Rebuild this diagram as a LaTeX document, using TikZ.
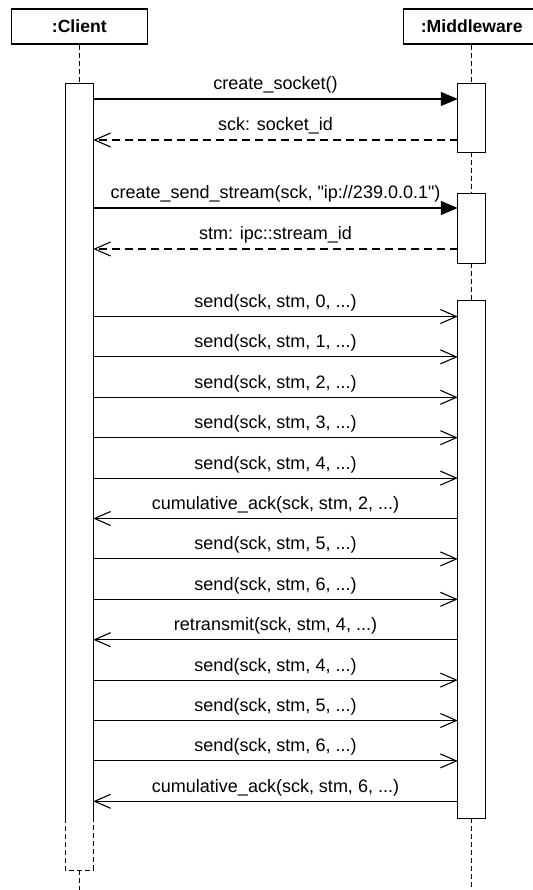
\documentclass[tikz,border=0pt]{standalone}
\usepackage{fontspec}
\setmainfont{Liberation Sans}
\usetikzlibrary{arrows.meta}

\begin{document}
\begin{tikzpicture}[x=1pt,y=-1pt,
  txt/.style={font=\fontsize{18}{20}\selectfont},
  participant/.style={draw, line width=1.1pt, minimum width=136pt, minimum height=35pt,
    inner sep=0pt, font=\fontsize{17.6}{20}\selectfont\bfseries},
  lifeline/.style={line width=1.1pt, dash pattern=on 5pt off 3pt},
  actspan/.style={minimum width=27.5pt, inner sep=0pt},
  call/.style={line width=1.1pt, -{Triangle[length=17pt,width=14pt]}},
  msg/.style={line width=1.1pt, -{Straight Barb[length=16pt,width=14pt]}},
  reply/.style={msg, dash pattern=on 8pt off 5pt},
  lbl/.style={txt, midway, anchor=base, yshift=9pt, inner sep=0pt}
]
\useasboundingbox (0,0) rectangle (532,890);

% participants
\node[participant] (client) at (79.3,26.5) {:Client};
\node[participant] (mw) at (471.7,26.5) {:Middleware};

% client activation (solid, then dashed towards the end)
\node[actspan, minimum height=786pt] (ca) at (79.3,477) {};
\coordinate (cbreak) at (0,818);
\coordinate (cend) at (79.3,890);
\coordinate (mend) at (471.7,890);

% lifelines
\draw[lifeline] (client.south) -- (ca.north);
\draw[lifeline] (ca.south) -- (cend);

% middleware activations
\node[actspan, minimum height=68pt] (ma1) at (471.7,118) {};
\node[actspan, minimum height=69.5pt] (ma2) at (471.7,228.25) {};
\node[actspan, minimum height=517pt] (ma3) at (471.7,559.5) {};
\draw[lifeline] (mw.south) -- (ma1.north);
\draw[lifeline] (ma1.south) -- (ma2.north);
\draw[lifeline] (ma2.south) -- (ma3.north);
\draw[lifeline] (ma3.south) -- (mend);
\draw[line width=1.1pt, fill=white] (ma1.north west) rectangle (ma1.south east);
\draw[line width=1.1pt, fill=white] (ma2.north west) rectangle (ma2.south east);
\draw[line width=1.1pt, fill=white] (ma3.north west) rectangle (ma3.south east);

\fill[white] (ca.north west) rectangle (ca.south east);
\draw[line width=1.1pt] (ca.west |- cbreak) -- (ca.north west) -- (ca.north east) -- (ca.east |- cbreak);
\draw[lifeline] (ca.west |- cbreak) -- (ca.south west) -- (ca.south east) -- (ca.east |- cbreak);

% message rows
\coordinate (y1) at (0,99);
\coordinate (y2) at (0,140);
\coordinate (y3) at (0,208);
\coordinate (y4) at (0,249);
\foreach \k in {0,...,12} {
  \coordinate (s\k) at (0,{316.5+40.4*\k});
}

\draw[call] (ca.east |- y1) -- node[lbl]{create\_socket()} (ma1.west |- y1);
\draw[reply] (ma1.west |- y2) -- node[lbl]{sck: socket\_id} (ca.east |- y2);
\draw[call] (ca.east |- y3) -- node[lbl]{create\_send\_stream(sck, \textquotedbl ip://239.0.0.1\textquotedbl)} (ma2.west |- y3);
\draw[reply] (ma2.west |- y4) -- node[lbl]{stm: ipc::stream\_id} (ca.east |- y4);

\draw[msg] (ca.east |- s0) -- node[lbl]{send(sck, stm, 0, ...)} (ma3.west |- s0);
\draw[msg] (ca.east |- s1) -- node[lbl]{send(sck, stm, 1, ...)} (ma3.west |- s1);
\draw[msg] (ca.east |- s2) -- node[lbl]{send(sck, stm, 2, ...)} (ma3.west |- s2);
\draw[msg] (ca.east |- s3) -- node[lbl]{send(sck, stm, 3, ...)} (ma3.west |- s3);
\draw[msg] (ca.east |- s4) -- node[lbl]{send(sck, stm, 4, ...)} (ma3.west |- s4);
\draw[msg] (ma3.west |- s5) -- node[lbl]{cumulative\_ack(sck, stm, 2, ...)} (ca.east |- s5);
\draw[msg] (ca.east |- s6) -- node[lbl]{send(sck, stm, 5, ...)} (ma3.west |- s6);
\draw[msg] (ca.east |- s7) -- node[lbl]{send(sck, stm, 6, ...)} (ma3.west |- s7);
\draw[msg] (ma3.west |- s8) -- node[lbl]{retransmit(sck, stm, 4, ...)} (ca.east |- s8);
\draw[msg] (ca.east |- s9) -- node[lbl]{send(sck, stm, 4, ...)} (ma3.west |- s9);
\draw[msg] (ca.east |- s10) -- node[lbl]{send(sck, stm, 5, ...)} (ma3.west |- s10);
\draw[msg] (ca.east |- s11) -- node[lbl]{send(sck, stm, 6, ...)} (ma3.west |- s11);
\draw[msg] (ma3.west |- s12) -- node[lbl]{cumulative\_ack(sck, stm, 6, ...)} (ca.east |- s12);
\end{tikzpicture}
\end{document}
